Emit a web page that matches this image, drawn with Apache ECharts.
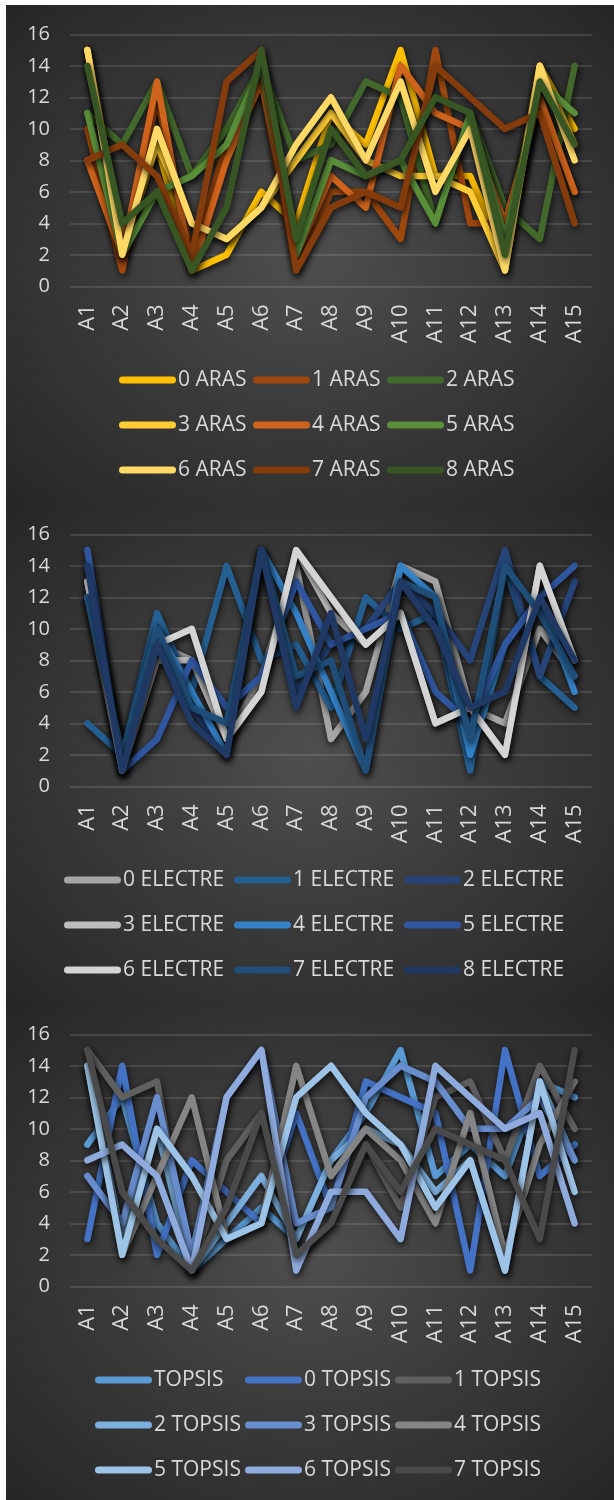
<!DOCTYPE html>
<html>
<head>
<meta charset="utf-8">
<script src="https://cdn.jsdelivr.net/npm/echarts@6/dist/echarts.min.js"></script>
<style>
  html, body { margin: 0; padding: 0; background: #ffffff; }
  .panel {
    position: absolute; left: 6px; width: 608px;
    background: radial-gradient(ellipse at 50% 50%, #4f4f4f 0%, #3b3b3b 45%, #262626 100%);
  }
</style>
</head>
<body>
<div id="aras" class="panel" style="top:5px;height:500px"></div>
<div id="electre" class="panel" style="top:505px;height:500px"></div>
<div id="topsis" class="panel" style="top:1005px;height:495px"></div>
<script>
// Alternatives A1..A15 and the y-axis ticks shared by all three charts
const categories = ['A1','A2','A3','A4','A5','A6','A7','A8','A9','A10','A11','A12','A13','A14','A15'];
const yTicks = [0, 2, 4, 6, 8, 10, 12, 14, 16];

// ARAS rankings
const aras0 = [15, 2, 9, 1, 2, 6, 4, 11, 9, 15, 7, 7, 2, 14, 10];
const aras1 = [10, 1, 12, 2, 9, 13, 1, 6, 6, 3, 15, 4, 4, 12, 6];
const aras2 = [11, 9, 13, 7, 10, 14, 8, 9, 13, 12, 4, 11, 5, 3, 14];
const aras3 = [15, 3, 9, 4, 3, 5, 8, 11, 8, 7, 7, 6, 1, 14, 9];
const aras4 = [8, 2, 13, 1, 8, 13, 2, 7, 5, 14, 11, 10, 4, 12, 6];
const aras5 = [11, 2, 6, 7, 9, 14, 2, 8, 7, 8, 4, 11, 3, 13, 11];
const aras6 = [15, 2, 10, 4, 3, 5, 9, 12, 8, 13, 6, 10, 1, 14, 8];
const aras7 = [8, 9, 7, 2, 13, 15, 1, 5, 6, 5, 14, 12, 10, 11, 4];
const aras8 = [14, 4, 6, 1, 5, 15, 3, 10, 7, 8, 12, 11, 2, 13, 9];

// ELECTRE rankings
const electre0 = [13, 1, 9, 8, 3, 7, 14, 3, 6, 14, 13, 5, 4, 10, 7];
const electre1 = [4, 2, 11, 6, 14, 8, 9, 5, 12, 10, 11, 1, 14, 7, 5];
const electre2 = [14, 1, 9, 5, 2, 15, 6, 9, 10, 13, 11, 8, 15, 7, 13];
const electre3 = [12, 1, 8, 8, 3, 6, 15, 11, 9, 11, 4, 5, 2, 14, 8];
const electre4 = [12, 2, 10, 6, 2, 15, 11, 6, 1, 14, 12, 2, 9, 12, 6];
const electre5 = [15, 1, 3, 8, 5, 7, 13, 9, 10, 11, 6, 4, 9, 12, 14];
const electre6 = [13, 1, 9, 10, 3, 6, 15, 12, 9, 11, 4, 5, 2, 14, 8];
const electre7 = [12, 2, 10, 5, 4, 15, 7, 8, 1, 13, 12, 3, 14, 11, 7];
const electre8 = [14, 1, 9, 4, 2, 15, 5, 11, 3, 13, 10, 5, 6, 12, 8];

// TOPSIS rankings
const topsisBase = [9, 12, 4, 1, 3, 5, 3, 8, 11, 15, 7, 9, 7, 13, 12];
const topsis0 = [3, 14, 2, 8, 6, 4, 11, 5, 13, 12, 11, 1, 15, 7, 9];
const topsis1 = [15, 12, 13, 1, 8, 11, 2, 4, 9, 5, 12, 13, 8, 14, 10];
const topsis2 = [14, 3, 10, 1, 4, 7, 3, 8, 10, 9, 6, 8, 1, 13, 8];
const topsis3 = [7, 4, 12, 2, 12, 15, 4, 5, 12, 14, 13, 10, 10, 12, 8];
const topsis4 = [14, 2, 7, 12, 3, 4, 14, 7, 10, 8, 4, 11, 2, 9, 13];
const topsis5 = [14, 2, 10, 7, 3, 4, 12, 14, 11, 9, 5, 8, 1, 13, 6];
const topsis6 = [8, 9, 7, 1, 12, 15, 1, 6, 6, 3, 14, 12, 10, 11, 4];
const topsis7 = [15, 6, 3, 1, 5, 11, 2, 4, 9, 6, 10, 9, 8, 3, 15];

const arasNames = ['0 ARAS','1 ARAS','2 ARAS','3 ARAS','4 ARAS','5 ARAS','6 ARAS','7 ARAS','8 ARAS'];
const arasColors = ['#FFC000','#9E480E','#43682B','#FFCD33','#D0641C','#5A8F3A','#FFD966','#843C0C','#375623'];
const electreNames = ['0 ELECTRE','1 ELECTRE','2 ELECTRE','3 ELECTRE','4 ELECTRE','5 ELECTRE','6 ELECTRE','7 ELECTRE','8 ELECTRE'];
const electreColors = ['#A5A5A5','#255E91','#264478','#BDBDBD','#3481C6','#2F569E','#D4D4D4','#1F4E79','#203864'];
const topsisNames = ['TOPSIS','0 TOPSIS','1 TOPSIS','2 TOPSIS','3 TOPSIS','4 TOPSIS','5 TOPSIS','6 TOPSIS','7 TOPSIS'];
const topsisColors = ['#5B9BD5','#4472C4','#606060','#7CAFDD','#698ED0','#858585','#9DC3E6','#8FAADC','#4A4A4A'];

const FONT = '"Open Sans", "Noto Sans", sans-serif';
const TEXT = '#d9d9d9';

function buildOption(names, colors, values, legendCols) {
  const series = names.map((n, i) => ({
    name: n,
    type: 'line',
    data: values[i],
    symbol: 'none',
    color: colors[i],
    lineStyle: {
      width: 6.5, color: colors[i], cap: 'round', join: 'round',
      shadowColor: 'rgba(0,0,0,0.75)', shadowBlur: 7, shadowOffsetX: 1, shadowOffsetY: 3
    },
    emphasis: { disabled: true },
    animation: false
  }));
  const rows = [375, 420, 465];
  const legends = names.map((n, i) => ({
    data: [n],
    left: legendCols[i % 3],
    top: rows[Math.floor(i / 3)] - 12,
    padding: 0,
    itemWidth: 57,
    itemHeight: 7,
    itemGap: 0,
    icon: 'path://M3.5,0 L53.5,0 A3.5,3.5 0 0 1 53.5,7 L3.5,7 A3.5,3.5 0 0 1 3.5,0 Z',
    selectedMode: false,
    textStyle: { color: TEXT, fontSize: 21, fontFamily: FONT, lineHeight: 24, padding: [0, 0, 0, -3] }
  }));
  return {
    animation: false,
    backgroundColor: 'transparent',
    grid: { left: 64, width: 522, top: 29.3, height: 252, containLabel: false },
    xAxis: {
      type: 'category', data: categories, boundaryGap: true,
      axisLine: { show: false }, axisTick: { show: false },
      axisLabel: { rotate: 90, color: TEXT, fontSize: 22, fontFamily: FONT, margin: 18, interval: 0 },
      splitLine: { show: false }
    },
    yAxis: {
      type: 'value', min: yTicks[0], max: yTicks[yTicks.length - 1], interval: yTicks[1] - yTicks[0],
      axisLine: { show: false }, axisTick: { show: false },
      axisLabel: { color: TEXT, fontSize: 20, fontFamily: FONT, margin: 20 },
      splitLine: { lineStyle: { color: 'rgba(255,255,255,0.16)', width: 1.5 } }
    },
    legend: legends,
    series: series
  };
}

const panels = [
  ['aras', arasNames, arasColors, [aras0, aras1, aras2, aras3, aras4, aras5, aras6, aras7, aras8], [113, 247, 381]],
  ['electre', electreNames, electreColors, [electre0, electre1, electre2, electre3, electre4, electre5, electre6, electre7, electre8], [58, 228, 398]],
  ['topsis', topsisNames, topsisColors, [topsisBase, topsis0, topsis1, topsis2, topsis3, topsis4, topsis5, topsis6, topsis7], [89, 239, 389]]
];
panels.forEach(([id, names, colors, values, cols]) => {
  const chart = echarts.init(document.getElementById(id), null, { renderer: 'canvas' });
  chart.setOption(buildOption(names, colors, values, cols));
});
</script>
</body>
</html>
